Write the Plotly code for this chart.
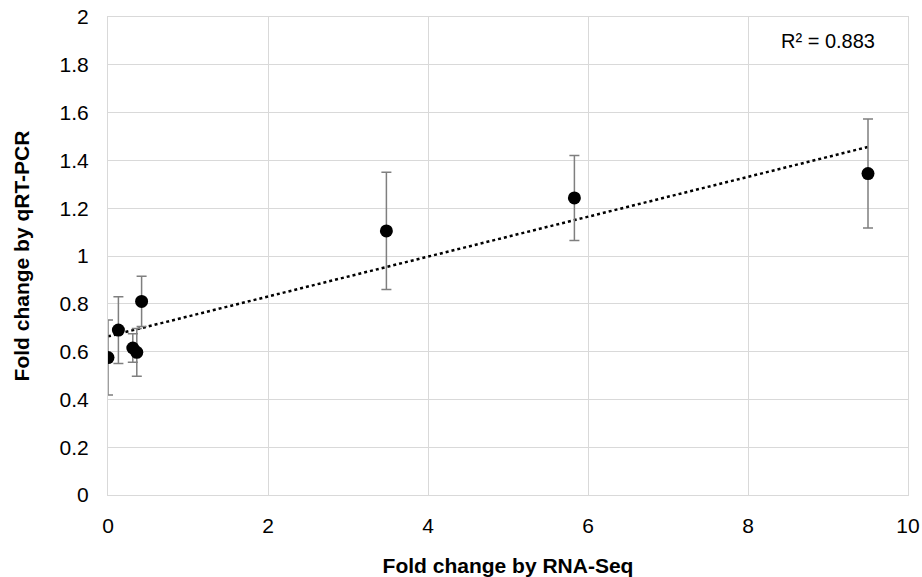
import numpy as np
import plotly.graph_objects as go

rna_seq = [0.0, 0.13, 0.31, 0.36, 0.42, 3.48, 5.83, 9.5]
qrt_pcr = [0.575, 0.69, 0.615, 0.597, 0.81, 1.105, 1.243, 1.345]
err = [0.157, 0.14, 0.06, 0.10, 0.105, 0.245, 0.178, 0.228]

slope, intercept = np.polyfit(rna_seq, qrt_pcr, 1)
tx = [min(rna_seq), max(rna_seq)]
ty = [slope * v + intercept for v in tx]

FONT = "Liberation Sans, Arial"

fig = go.Figure()
fig.add_trace(go.Scatter(
    x=tx, y=ty, mode="lines",
    line=dict(color="black", width=2.5, dash="dot"),
    showlegend=False, hoverinfo="skip"))
fig.add_trace(go.Scatter(
    x=rna_seq, y=qrt_pcr, mode="markers",
    marker=dict(color="black", size=13),
    error_y=dict(type="data", array=err, visible=True, color="#7f7f7f", thickness=1.5, width=5),
    showlegend=False))

fig.add_annotation(x=9.0, y=1.9, xref="x", yref="y", text="R² = 0.883", showarrow=False,
                   xanchor="center", font=dict(size=20, color="black", family=FONT))

tick_font = dict(size=21, color="black", family=FONT)
title_font = dict(size=21, color="black", family=FONT)
fig.update_layout(
    width=922, height=577,
    margin=dict(l=108, r=14, t=17, b=82),
    paper_bgcolor="white", plot_bgcolor="white",
    font=dict(family=FONT, color="black"),
    xaxis=dict(range=[0, 10], dtick=2, showgrid=True, gridcolor="#d9d9d9", gridwidth=1,
               zeroline=False, showline=True, linecolor="#d9d9d9", mirror=True,
               tickfont=tick_font, ticks="", ticklabelstandoff=12, automargin=False,
               title=dict(text="<b>Fold change by RNA-Seq</b>", font=title_font, standoff=22)),
    yaxis=dict(range=[0, 2], dtick=0.2, showgrid=True, gridcolor="#d9d9d9", gridwidth=1,
               zeroline=False, showline=True, linecolor="#d9d9d9", mirror=True,
               tickfont=tick_font, ticks="", tickformat="~g", ticklabelstandoff=14, automargin=False,
               title=dict(text="<b>Fold change by qRT-PCR</b>", font=title_font, standoff=24)),
)

fig.write_html("out.html", config={"displayModeBar": False},
               post_script="document.body.style.margin='0';")
